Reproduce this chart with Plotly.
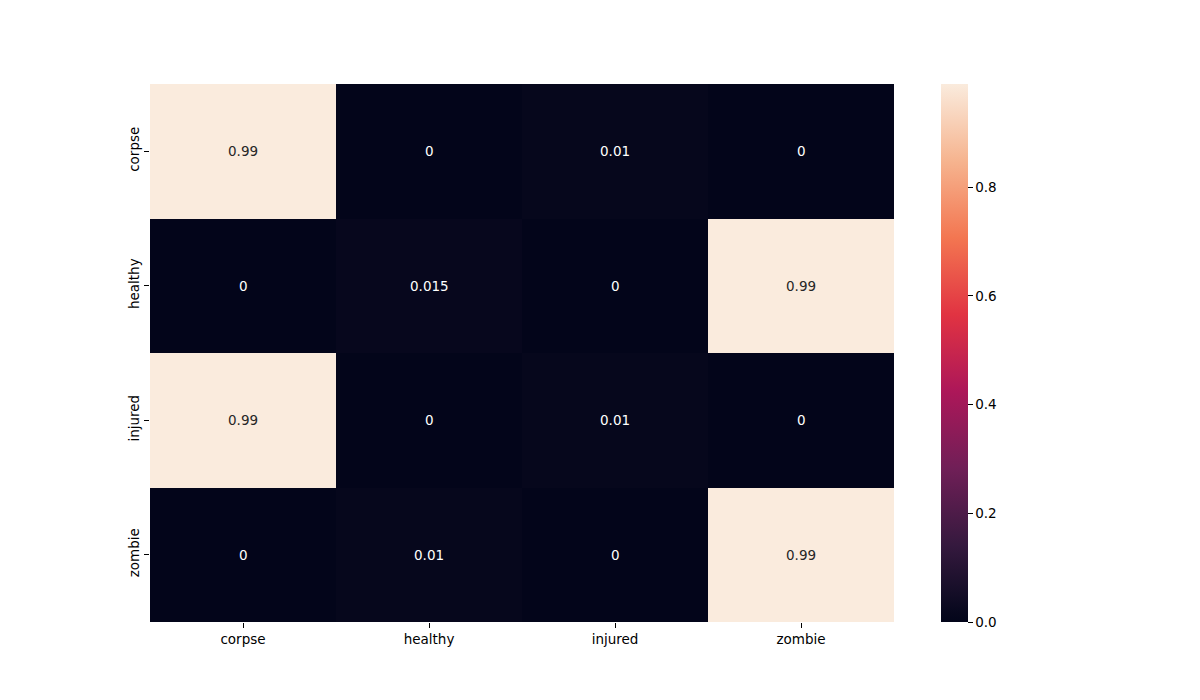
import plotly.graph_objects as go

labels = ["corpse", "healthy", "injured", "zombie"]
row_corpse = [0.99, 0.0, 0.01, 0.0]
row_healthy = [0.0, 0.015, 0.0, 0.99]
row_injured = [0.99, 0.0, 0.01, 0.0]
row_zombie = [0.0, 0.01, 0.0, 0.99]
z = [row_corpse, row_healthy, row_injured, row_zombie]
cbar_ticks = [0.0, 0.2, 0.4, 0.6, 0.8]

rocket = [
    [0.0, "#03051A"], [0.02, "#08081E"], [0.05, "#130D26"],
    [0.143, "#35193E"], [0.286, "#701F57"],
    [0.429, "#AD1759"], [0.571, "#E13342"], [0.714, "#F37651"],
    [0.857, "#F6B48F"], [1.0, "#FAEBDD"],
]

zmin, zmax = 0.0, max(max(r) for r in z)
font = dict(family="DejaVu Sans", size=13.5, color="#000000")

fig = go.Figure(go.Heatmap(
    z=z, x=labels, y=labels, colorscale=rocket, zmin=zmin, zmax=zmax,
    xgap=0, ygap=0,
    colorbar=dict(
        x=(941 - 150) / 744, xanchor="left", xref="paper", xpad=0,
        y=0, yanchor="bottom", len=1, lenmode="fraction", ypad=0,
        thickness=27, outlinewidth=0,
        tickvals=cbar_ticks, tickformat=".1f", ticks="outside",
        ticklen=5, tickwidth=1, tickcolor="#000", tickfont=font,
    ),
))

ann = []
for i, yl in enumerate(labels):
    for j, xl in enumerate(labels):
        v = z[i][j]
        frac = (v - zmin) / (zmax - zmin)
        ann.append(dict(
            x=xl, y=yl, text=format(v, ".2g"), showarrow=False,
            font=dict(family="DejaVu Sans", size=13.5,
                      color="#262626" if frac > 0.5 else "#FFFFFF"),
        ))

fig.update_layout(
    width=1200, height=700,
    margin=dict(l=150, r=306, t=84, b=78),
    paper_bgcolor="white", plot_bgcolor="white",
    annotations=ann, font=font, showlegend=False,
)
fig.update_xaxes(ticks="outside", ticklen=5, tickwidth=1, tickcolor="#000",
                 showgrid=False, zeroline=False, showline=False, tickfont=font)
fig.update_yaxes(ticks="outside", ticklen=5, tickwidth=1, tickcolor="#000",
                 showgrid=False, zeroline=False, showline=False,
                 autorange="reversed", tickangle=-90, tickfont=font)

fig.write_html("out.html")
